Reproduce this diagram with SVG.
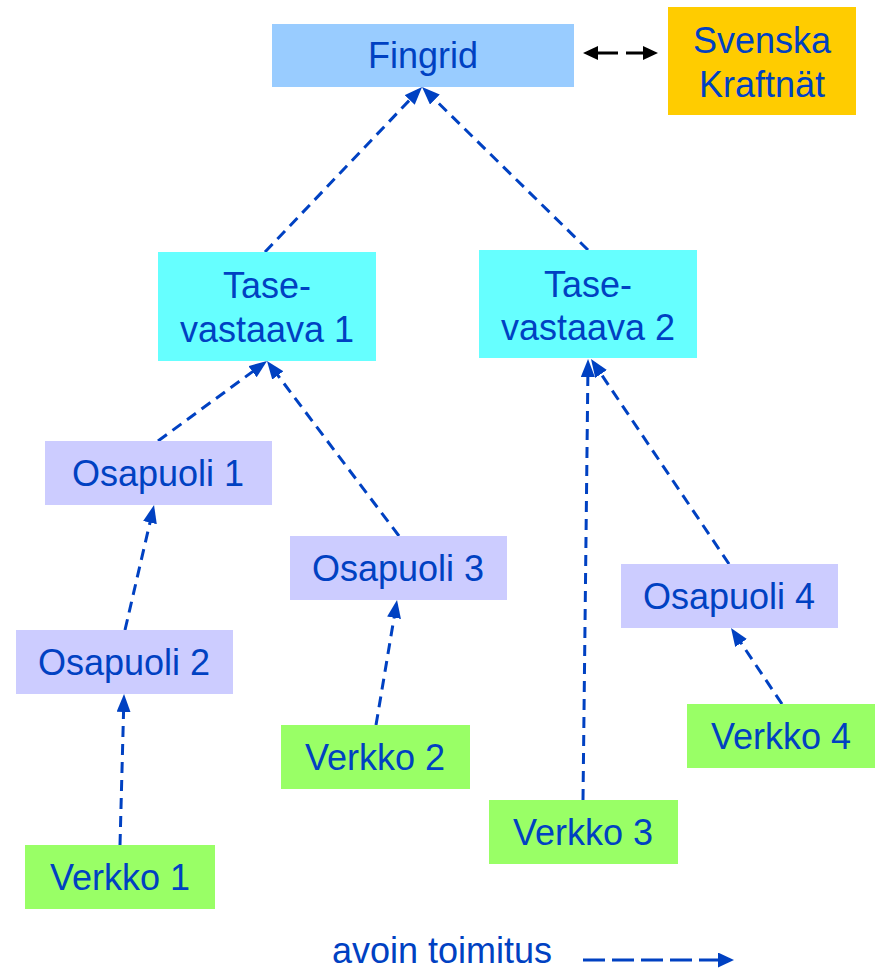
<svg xmlns="http://www.w3.org/2000/svg" width="875" height="971" viewBox="0 0 875 971">
<style>
text{font-family:"Liberation Sans",Arial,sans-serif;font-size:36px;fill:#0041C2;text-anchor:middle}
.c{fill:none;stroke:#0041C2;stroke-width:3;stroke-dasharray:11 7;marker-end:url(#ah)}
.fg{fill:#99CCFF}.sk{fill:#FFCC00}.ts{fill:#66FFFF}.os{fill:#CCCCFF}.vk{fill:#99FF66}
</style>
<defs>
<marker id="ah" markerUnits="userSpaceOnUse" markerWidth="19" markerHeight="15" refX="13" refY="7" orient="auto"><path d="M0,0 L18,7 L0,14 z" fill="#0041C2"/></marker>
<marker id="ahL" markerUnits="userSpaceOnUse" markerWidth="17" markerHeight="16" refX="12" refY="7.5" orient="auto"><path d="M0,0 L16,7.5 L0,15 z" fill="#0041C2"/></marker>
<marker id="ahK" markerUnits="userSpaceOnUse" markerWidth="16" markerHeight="15" refX="11" refY="7" orient="auto-start-reverse"><path d="M0,0 L15,7 L0,14 z" fill="#000"/></marker>
</defs>
<g id="connectors">
<line class="c" x1="265" y1="252" x2="418.6" y2="90.6"/>
<line class="c" x1="588" y1="250" x2="425.6" y2="90.5"/>
<line class="c" x1="158" y1="441" x2="263" y2="364"/>
<line class="c" x1="399" y1="536" x2="270" y2="365"/>
<line class="c" x1="125" y1="630" x2="152.9" y2="509.9"/>
<line class="c" x1="120" y1="845" x2="123.9" y2="699"/>
<line class="c" x1="376" y1="725" x2="396.2" y2="604.9"/>
<line class="c" x1="583" y1="800" x2="588" y2="364"/>
<line class="c" x1="729" y1="564" x2="593.8" y2="363.2"/>
<line class="c" x1="782" y1="704" x2="733.8" y2="632.2"/>
<line x1="587" y1="53" x2="654" y2="53" stroke="#000" stroke-width="3" stroke-dasharray="31 8 40" marker-start="url(#ahK)" marker-end="url(#ahK)"/>
</g>
<g id="fingrid"><rect class="fg" x="272" y="24" width="302" height="63"/><text x="423" y="68">Fingrid</text></g>
<g id="svenska-kraftnat"><rect class="sk" x="668" y="7" width="188" height="108"/><text x="762" y="53">Svenska</text><text x="762" y="97">Kraftnät</text></g>
<g id="tasevastaava1"><rect class="ts" x="158" y="252" width="218" height="109"/><text x="267" y="298">Tase-</text><text x="267" y="342">vastaava 1</text></g>
<g id="tasevastaava2"><rect class="ts" x="479" y="250" width="218" height="108"/><text x="588" y="297">Tase-</text><text x="588" y="340">vastaava 2</text></g>
<g id="osapuoli1"><rect class="os" x="45" y="441" width="227" height="64"/><text x="158" y="486">Osapuoli 1</text></g>
<g id="osapuoli3"><rect class="os" x="290" y="536" width="217" height="64"/><text x="398" y="581">Osapuoli 3</text></g>
<g id="osapuoli2"><rect class="os" x="16" y="630" width="217" height="64"/><text x="124" y="675">Osapuoli 2</text></g>
<g id="osapuoli4"><rect class="os" x="621" y="564" width="217" height="64"/><text x="729" y="609">Osapuoli 4</text></g>
<g id="verkko1"><rect class="vk" x="25" y="845" width="190" height="64"/><text x="120" y="890">Verkko 1</text></g>
<g id="verkko2"><rect class="vk" x="281" y="725" width="189" height="64"/><text x="375" y="770">Verkko 2</text></g>
<g id="verkko3"><rect class="vk" x="489" y="800" width="189" height="64"/><text x="583" y="845">Verkko 3</text></g>
<g id="verkko4"><rect class="vk" x="687" y="704" width="188" height="64"/><text x="781" y="749">Verkko 4</text></g>
<g id="legend">
<text x="442" y="963">avoin toimitus</text>
<line x1="583" y1="960" x2="730" y2="960" stroke="#0041C2" stroke-width="3" stroke-dasharray="22 7" marker-end="url(#ahL)"/>
</g>
</svg>
